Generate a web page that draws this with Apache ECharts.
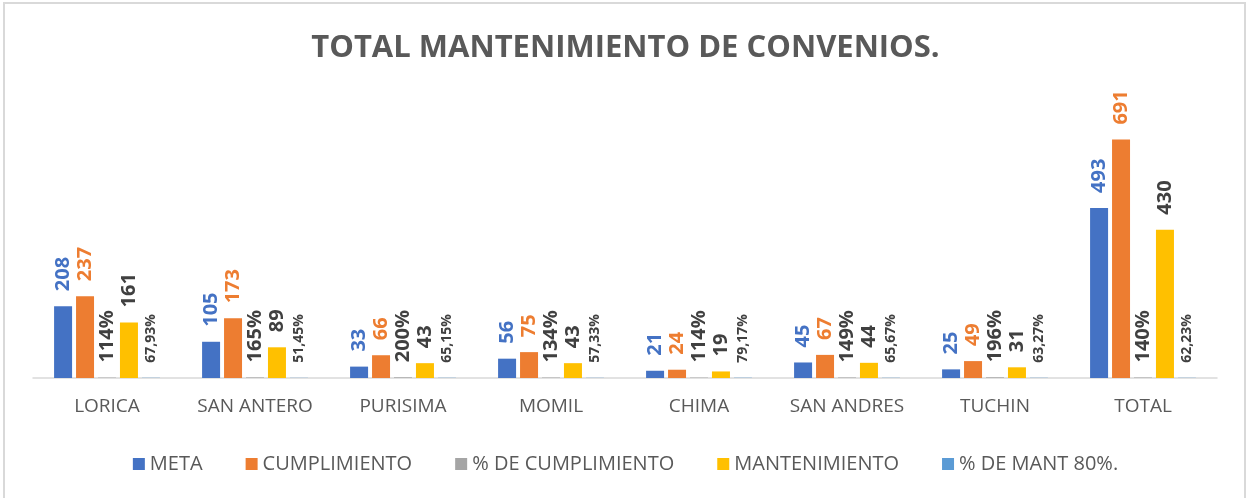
<!DOCTYPE html>
<html>
<head>
<meta charset="utf-8">
<script src="https://cdn.jsdelivr.net/npm/echarts@6/dist/echarts.min.js"></script>
<style>
  html, body { margin: 0; padding: 0; background: #fff; }
  #chart { width: 1251px; height: 498px; }
</style>
</head>
<body>
<div id="chart"></div>
<script>
const categories = ['LORICA', 'SAN ANTERO', 'PURISIMA', 'MOMIL', 'CHIMA', 'SAN ANDRES', 'TUCHIN', 'TOTAL']
const meta = [208, 105, 33, 56, 21, 45, 25, 493]
const cumplimiento = [237, 173, 66, 75, 24, 67, 49, 691]
const pctCumplimiento = [1.14, 1.65, 2.00, 1.34, 1.14, 1.49, 1.96, 1.40]
const mantenimiento = [161, 89, 43, 43, 19, 44, 31, 430]
const pctMant = [0.6793, 0.5145, 0.6515, 0.5733, 0.7917, 0.6567, 0.6327, 0.6223]

const font = '"Open Sans", "Liberation Sans", sans-serif'

const lbl = (color, size, fmt) => ({
  show: true,
  position: 'top',
  rotate: 90,
  align: 'left',
  verticalAlign: 'middle',
  distance: 15,
  color: color,
  fontFamily: font,
  fontWeight: 'bold',
  fontSize: size,
  formatter: fmt
})

const chart = echarts.init(document.getElementById('chart'))
chart.setOption({
  animation: false,
  title: {
    text: 'TOTAL MANTENIMIENTO DE CONVENIOS.',
    left: 'center',
    top: 28,
    textStyle: { color: '#595959', fontSize: 31, fontWeight: 'bold', fontFamily: font }
  },
  graphic: [{
    type: 'rect',
    shape: { x: 4, y: 3, width: 1241, height: 505 },
    style: { fill: 'none', stroke: '#D9D9D9', lineWidth: 2 },
    silent: true
  }],
  legend: {
    left: 'center',
    top: 449,
    itemWidth: 12,
    itemHeight: 12,
    itemGap: 43,
    icon: 'rect',
    textStyle: { color: '#595959', fontSize: 20, fontFamily: font }
  },
  grid: { left: 33, right: 34, top: 102, bottom: 120 },
  xAxis: {
    type: 'category',
    data: categories,
    axisLine: { lineStyle: { color: '#D9D9D9', width: 1.5 } },
    axisTick: { show: false },
    axisLabel: { interval: 0, color: '#595959', fontSize: 19, fontFamily: font, margin: 19 }
  },
  yAxis: {
    type: 'value',
    min: 0,
    max: 800,
    show: false
  },
  series: [
    {
      name: 'META', type: 'bar', data: meta,
      barWidth: 18, barGap: '22%', barCategoryGap: '28%',
      itemStyle: { color: '#4472C4' },
      label: lbl('#4472C4', 20, p => p.value)
    },
    {
      name: 'CUMPLIMIENTO', type: 'bar', data: cumplimiento,
      barWidth: 18,
      itemStyle: { color: '#ED7D31' },
      label: lbl('#ED7D31', 20, p => p.value)
    },
    {
      name: '% DE CUMPLIMIENTO', type: 'bar', data: pctCumplimiento,
      barWidth: 18,
      itemStyle: { color: '#A5A5A5' },
      label: lbl('#404040', 20, p => Math.round(p.value * 100) + '%')
    },
    {
      name: 'MANTENIMIENTO', type: 'bar', data: mantenimiento,
      barWidth: 18,
      itemStyle: { color: '#FFC000' },
      label: lbl('#404040', 20, p => p.value)
    },
    {
      name: '% DE MANT 80%.', type: 'bar', data: pctMant,
      barWidth: 18,
      itemStyle: { color: '#5B9BD5' },
      label: lbl('#404040', 14, p => (p.value * 100).toFixed(2).replace('.', ',') + '%')
    }
  ]
})
</script>
</body>
</html>
